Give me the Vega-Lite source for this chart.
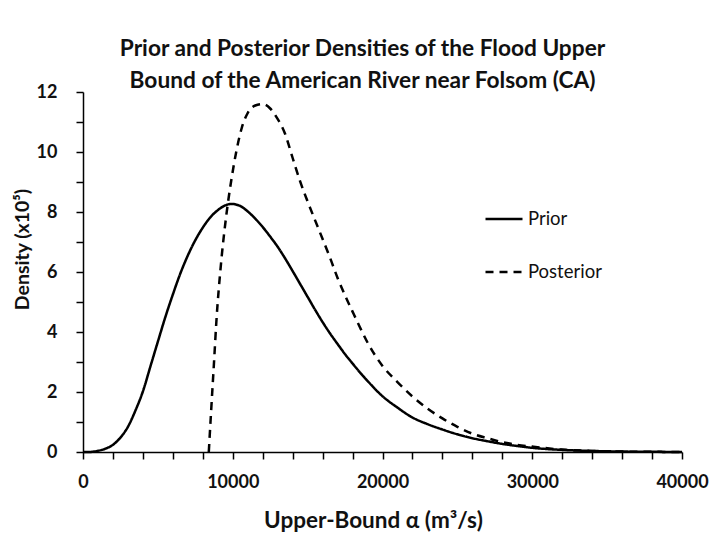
{
  "$schema": "https://vega.github.io/schema/vega-lite/v6.json",
  "width": 599,
  "height": 360,
  "autosize": {"type": "none"},
  "padding": {"left": 83, "top": 92, "right": 27, "bottom": 91},
  "background": "white",
  "title": {
    "text": ["Prior and Posterior Densities of the Flood Upper", "Bound of the American River near Folsom (CA)"],
    "font": "Lato",
    "fontSize": 22.7,
    "fontWeight": "bold",
    "color": "#111",
    "anchor": "middle",
    "dx": -20,
    "dy": 30,
    "offset": 20,
    "lineHeight": 32
  },
  "data": {
    "values": [
      {"x": 0, "y": 0, "s": "Prior"},
      {"x": 500, "y": 0.002, "s": "Prior"},
      {"x": 1000, "y": 0.04, "s": "Prior"},
      {"x": 1500, "y": 0.11, "s": "Prior"},
      {"x": 2000, "y": 0.24, "s": "Prior"},
      {"x": 2500, "y": 0.48, "s": "Prior"},
      {"x": 3000, "y": 0.84, "s": "Prior"},
      {"x": 3500, "y": 1.38, "s": "Prior"},
      {"x": 4000, "y": 2.02, "s": "Prior"},
      {"x": 4500, "y": 2.85, "s": "Prior"},
      {"x": 5000, "y": 3.68, "s": "Prior"},
      {"x": 5500, "y": 4.5, "s": "Prior"},
      {"x": 6000, "y": 5.25, "s": "Prior"},
      {"x": 6500, "y": 5.95, "s": "Prior"},
      {"x": 7000, "y": 6.55, "s": "Prior"},
      {"x": 7500, "y": 7.06, "s": "Prior"},
      {"x": 8000, "y": 7.48, "s": "Prior"},
      {"x": 8500, "y": 7.82, "s": "Prior"},
      {"x": 9000, "y": 8.06, "s": "Prior"},
      {"x": 9500, "y": 8.22, "s": "Prior"},
      {"x": 9900, "y": 8.27, "s": "Prior"},
      {"x": 10500, "y": 8.2, "s": "Prior"},
      {"x": 11000, "y": 8.02, "s": "Prior"},
      {"x": 11500, "y": 7.78, "s": "Prior"},
      {"x": 12000, "y": 7.5, "s": "Prior"},
      {"x": 12500, "y": 7.18, "s": "Prior"},
      {"x": 13000, "y": 6.84, "s": "Prior"},
      {"x": 13500, "y": 6.45, "s": "Prior"},
      {"x": 14000, "y": 6.03, "s": "Prior"},
      {"x": 14500, "y": 5.6, "s": "Prior"},
      {"x": 15000, "y": 5.17, "s": "Prior"},
      {"x": 15500, "y": 4.74, "s": "Prior"},
      {"x": 16000, "y": 4.33, "s": "Prior"},
      {"x": 16500, "y": 3.95, "s": "Prior"},
      {"x": 17000, "y": 3.6, "s": "Prior"},
      {"x": 17500, "y": 3.26, "s": "Prior"},
      {"x": 18000, "y": 2.95, "s": "Prior"},
      {"x": 18500, "y": 2.65, "s": "Prior"},
      {"x": 19000, "y": 2.37, "s": "Prior"},
      {"x": 20000, "y": 1.86, "s": "Prior"},
      {"x": 21000, "y": 1.48, "s": "Prior"},
      {"x": 22000, "y": 1.15, "s": "Prior"},
      {"x": 23000, "y": 0.93, "s": "Prior"},
      {"x": 24000, "y": 0.75, "s": "Prior"},
      {"x": 25000, "y": 0.59, "s": "Prior"},
      {"x": 26000, "y": 0.46, "s": "Prior"},
      {"x": 27000, "y": 0.36, "s": "Prior"},
      {"x": 28000, "y": 0.27, "s": "Prior"},
      {"x": 29000, "y": 0.2, "s": "Prior"},
      {"x": 30000, "y": 0.14, "s": "Prior"},
      {"x": 32000, "y": 0.07, "s": "Prior"},
      {"x": 34000, "y": 0.035, "s": "Prior"},
      {"x": 36000, "y": 0.015, "s": "Prior"},
      {"x": 38000, "y": 0.006, "s": "Prior"},
      {"x": 40000, "y": 0.002, "s": "Prior"},
      {"x": 8400, "y": 0, "s": "Posterior"},
      {"x": 8560, "y": 1.4, "s": "Posterior"},
      {"x": 8750, "y": 3.0, "s": "Posterior"},
      {"x": 8900, "y": 4.3, "s": "Posterior"},
      {"x": 9220, "y": 6.3, "s": "Posterior"},
      {"x": 9560, "y": 7.85, "s": "Posterior"},
      {"x": 9900, "y": 9.05, "s": "Posterior"},
      {"x": 10250, "y": 10.05, "s": "Posterior"},
      {"x": 10600, "y": 10.8, "s": "Posterior"},
      {"x": 11000, "y": 11.3, "s": "Posterior"},
      {"x": 11500, "y": 11.55, "s": "Posterior"},
      {"x": 12000, "y": 11.6, "s": "Posterior"},
      {"x": 12500, "y": 11.45, "s": "Posterior"},
      {"x": 12900, "y": 11.18, "s": "Posterior"},
      {"x": 13500, "y": 10.6, "s": "Posterior"},
      {"x": 14000, "y": 9.8, "s": "Posterior"},
      {"x": 14500, "y": 9.02, "s": "Posterior"},
      {"x": 15000, "y": 8.35, "s": "Posterior"},
      {"x": 15500, "y": 7.72, "s": "Posterior"},
      {"x": 16000, "y": 7.1, "s": "Posterior"},
      {"x": 16500, "y": 6.47, "s": "Posterior"},
      {"x": 17000, "y": 5.8, "s": "Posterior"},
      {"x": 17500, "y": 5.22, "s": "Posterior"},
      {"x": 18000, "y": 4.68, "s": "Posterior"},
      {"x": 18500, "y": 4.15, "s": "Posterior"},
      {"x": 19000, "y": 3.65, "s": "Posterior"},
      {"x": 20000, "y": 2.87, "s": "Posterior"},
      {"x": 21000, "y": 2.33, "s": "Posterior"},
      {"x": 22000, "y": 1.85, "s": "Posterior"},
      {"x": 23000, "y": 1.45, "s": "Posterior"},
      {"x": 24000, "y": 1.12, "s": "Posterior"},
      {"x": 25000, "y": 0.84, "s": "Posterior"},
      {"x": 26000, "y": 0.61, "s": "Posterior"},
      {"x": 27000, "y": 0.46, "s": "Posterior"},
      {"x": 28000, "y": 0.33, "s": "Posterior"},
      {"x": 29000, "y": 0.24, "s": "Posterior"},
      {"x": 30000, "y": 0.18, "s": "Posterior"},
      {"x": 32000, "y": 0.08, "s": "Posterior"},
      {"x": 34000, "y": 0.035, "s": "Posterior"},
      {"x": 36000, "y": 0.015, "s": "Posterior"},
      {"x": 38000, "y": 0.006, "s": "Posterior"},
      {"x": 40000, "y": 0.002, "s": "Posterior"}
    ]
  },
  "mark": {"type": "line", "color": "black", "strokeWidth": 2.5, "interpolate": "monotone"},
  "encoding": {
    "x": {
      "field": "x",
      "type": "quantitative",
      "scale": {"domain": [0, 40000], "nice": false},
      "axis": {
        "title": "Upper-Bound α (m³/s)",
        "values": [0, 2000, 4000, 6000, 8000, 10000, 12000, 14000, 16000, 18000, 20000, 22000, 24000, 26000, 28000, 30000, 32000, 34000, 36000, 38000, 40000],
        "labelExpr": "datum.value % 10000 == 0 ? datum.value : ''",
        "grid": false,
        "domainColor": "black",
        "domainWidth": 1.5,
        "tickColor": "black",
        "tickWidth": 1.5,
        "tickSize": 7,
        "labelPadding": 14,
        "labelFont": "Lato",
        "labelFontSize": 18,
        "labelFontWeight": "bold",
        "labelColor": "#111",
        "labelFlush": false,
        "labelOverlap": false,
        "titleFont": "Lato",
        "titleFontSize": 22.5,
        "titleFontWeight": "bold",
        "titleColor": "#111",
        "titleX": 290,
        "titleY": 68,
        "titleAlign": "center",
        "titleBaseline": "middle"
      }
    },
    "y": {
      "field": "y",
      "type": "quantitative",
      "scale": {"domain": [0, 12], "nice": false},
      "axis": {
        "title": "Density (x10⁵)",
        "values": [0, 1, 2, 3, 4, 5, 6, 7, 8, 9, 10, 11, 12],
        "labelExpr": "datum.value % 2 == 0 ? datum.label : ''",
        "grid": false,
        "domainColor": "black",
        "domainWidth": 1.5,
        "tickColor": "black",
        "tickWidth": 1.5,
        "tickSize": 7,
        "labelPadding": 19,
        "labelFont": "Lato",
        "labelFontSize": 18,
        "labelFontWeight": "bold",
        "labelColor": "#111",
        "labelFlush": false,
        "labelOverlap": false,
        "titleFont": "Lato",
        "titleFontSize": 19.5,
        "titleFontWeight": "bold",
        "titleColor": "#111",
        "titleX": -61,
        "titleY": 157,
        "titleAlign": "center",
        "titleBaseline": "middle",
        "titleAngle": -90
      }
    },
    "strokeDash": {
      "field": "s",
      "type": "nominal",
      "scale": {"domain": ["Prior", "Posterior"], "range": [[1, 0], [8, 6]]},
      "legend": {
        "title": null,
        "orient": "none",
        "legendX": 401,
        "legendY": 107,
        "symbolType": "stroke",
        "symbolSize": 1369,
        "symbolStrokeWidth": 2.5,
        "symbolStrokeColor": "black",
        "labelFont": "Lato",
        "labelFontSize": 18.5,
        "labelColor": "#111",
        "labelOffset": 4,
        "rowPadding": 23
      }
    }
  },
  "config": {"view": {"stroke": null}}
}
